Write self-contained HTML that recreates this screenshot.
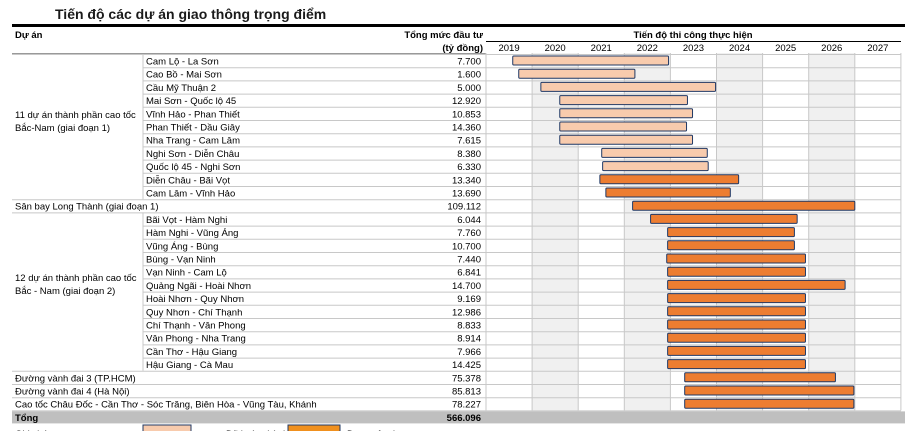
<!DOCTYPE html>
<html><head><meta charset="utf-8"><style>
html,body{margin:0;padding:0;background:#fff;width:910px;height:431px;overflow:hidden}
svg{display:block;font-family:"Liberation Sans",sans-serif}
</style></head><body>
<svg id="c" width="910" height="431"></svg>
<script>
const projectNames=["Cam Lộ - La Sơn","Cao Bồ - Mai Sơn","Cầu Mỹ Thuận 2","Mai Sơn - Quốc lộ 45","Vĩnh Hảo - Phan Thiết","Phan Thiết - Dầu Giây","Nha Trang - Cam Lâm","Nghi Sơn - Diễn Châu","Quốc lộ 45 - Nghi Sơn","Diễn Châu - Bãi Vọt","Cam Lâm - Vĩnh Hảo","Sân bay Long Thành (giai đoạn 1)","Bãi Vọt - Hàm Nghi","Hàm Nghi - Vũng Áng","Vũng Áng - Bùng","Bùng - Vạn Ninh","Vạn Ninh - Cam Lộ","Quảng Ngãi - Hoài Nhơn","Hoài Nhơn - Quy Nhơn","Quy Nhơn - Chí Thạnh","Chí Thạnh - Vân Phong","Vân Phong - Nha Trang","Cần Thơ - Hậu Giang","Hậu Giang - Cà Mau","Đường vành đai 3 (TP.HCM)","Đường vành đai 4 (Hà Nội)","Cao tốc Châu Đốc - Cần Thơ - Sóc Trăng, Biên Hòa - Vũng Tàu, Khánh"];
const investment=["7.700","1.600","5.000","12.920","10.853","14.360","7.615","8.380","6.330","13.340","13.690","109.112","6.044","7.760","10.700","7.440","6.841","14.700","9.169","12.986","8.833","8.914","7.966","14.425","75.378","85.813","78.227"];
const startYear=[2019.58,2019.71,2020.19,2020.6,2020.6,2020.6,2020.6,2021.51,2021.53,2021.47,2021.6,2022.18,2022.57,2022.94,2022.94,2022.92,2022.94,2022.94,2022.94,2022.94,2022.94,2022.94,2022.94,2022.94,2023.31,2023.31,2023.31];
const endYear=[2022.96,2022.23,2023.98,2023.37,2023.48,2023.35,2023.48,2023.8,2023.82,2024.48,2024.3,2027.0,2025.75,2025.69,2025.69,2025.93,2025.93,2026.79,2025.93,2025.93,2025.93,2025.93,2025.93,2025.93,2026.58,2026.98,2026.98];
const status=["done","done","done","done","done","done","done","done","done","ongoing","ongoing","ongoing","ongoing","ongoing","ongoing","ongoing","ongoing","ongoing","ongoing","ongoing","ongoing","ongoing","ongoing","ongoing","ongoing","ongoing","ongoing"];
const years=[2019,2020,2021,2022,2023,2024,2025,2026,2027];
const NS="http://www.w3.org/2000/svg";
const svg=document.getElementById('c');
function el(t,a,txt){const e=document.createElementNS(NS,t);for(const k in a)e.setAttribute(k,a[k]);if(txt!=null)e.textContent=txt;svg.appendChild(e);return e;}
const gx0=486,colW=46.1,rowTop=54,rowH=13.2;
const xs=y=>gx0+(y-2019)*colW;
const ry=i=>rowTop+i*rowH;
const N=projectNames.length;
// shaded columns
years.forEach((y,i)=>{if(i%2===1){const r=el('rect',{x:xs(y),y:53,width:colW,height:ry(N)-53,fill:'#f0f0f0'});

}});
// title
const t=el('text',{x:55,y:19,'font-size':14,'font-weight':'bold',fill:'#1a1a1a'},'Tiến độ các dự án giao thông trọng điểm');

el('rect',{x:12,y:24,width:893,height:3,fill:'#000'});
// headers
let h=el('text',{x:15,y:38,'font-size':9.5,'font-weight':'bold'},'Dự án');
h=el('text',{x:483,y:38,'font-size':9.5,'font-weight':'bold','text-anchor':'end'},'Tổng mức đầu tư');
el('text',{x:483,y:51,'font-size':9.5,'font-weight':'bold','text-anchor':'end'},'(tỷ đồng)');
h=el('text',{x:693,y:38,'font-size':9.5,'font-weight':'bold','text-anchor':'middle'},'Tiến độ thi công thực hiện');
el('line',{x1:486,x2:901,y1:41.5,y2:41.5,stroke:'#000','stroke-width':1});
el('line',{x1:12,x2:486,y1:53.5,y2:53.5,stroke:'#999','stroke-width':1});
years.forEach(y=>{const e=el('text',{x:xs(y)+colW/2,y:51,'font-size':9.5,'text-anchor':'middle'},String(y));
});
// grid
years.concat([2028]).forEach(y=>el('line',{x1:xs(y),x2:xs(y),y1:53,y2:ry(N),stroke:'#c8c8c8'}));
for(let i=0;i<=N;i++){
 const y=ry(i)+0.5;
 const grp=(i>=1&&i<=10)||(i>=13&&i<=23);
 el('line',{x1:grp?143:12,x2:901,y1:y,y2:y,stroke:'#c8c8c8'});
}
el('line',{x1:143,x2:143,y1:54,y2:ry(11),stroke:'#c8c8c8'});
el('line',{x1:143,x2:143,y1:ry(12),y2:ry(24),stroke:'#c8c8c8'});
// groups
let g=el('text',{x:15,y:118,'font-size':9.5},'11 dự án thành phần cao tốc');
el('text',{x:15,y:131,'font-size':9.5},'Bắc-Nam (giai đoạn 1)');
g=el('text',{x:15,y:281,'font-size':9.5},'12 dự án thành phần cao tốc');
el('text',{x:15,y:294,'font-size':9.5},'Bắc - Nam (giai đoạn 2)');
// rows
for(let i=0;i<N;i++){
 const sub=!(i===11||i>=24);
 const tx=el('text',{x:sub?146:15,y:ry(i)+10.5,'font-size':9.5},projectNames[i]);
 
 const v=el('text',{x:481,y:ry(i)+10.5,'font-size':9.5,'text-anchor':'end'},investment[i]);
 
 const b=el('rect',{x:xs(startYear[i]),y:ry(i)+2,width:xs(endYear[i])-xs(startYear[i]),height:9,rx:1,
  fill:status[i]==='done'?'#f8cbad':'#ed7d31',stroke:'#203864','stroke-width':1});
 
}
// total
const tr=el('rect',{x:12,y:ry(N)+1,width:893,height:12,fill:'#bfbfbf'});

el('text',{x:15,y:ry(N)+10.5,'font-size':9.5,'font-weight':'bold'},'Tổng');
el('text',{x:481,y:ry(N)+10.5,'font-size':9.5,'font-weight':'bold','text-anchor':'end'},'566.096');
// legend
el('text',{x:15,y:437,'font-size':9.5},'Ghi chú:');
let l=el('rect',{x:143,y:425,width:48,height:12,fill:'#f8cbad',stroke:'#203864'});
el('text',{x:226,y:437,'font-size':9.5},'Đã hoàn thành');
l=el('rect',{x:288,y:425,width:52,height:12,fill:'#f0901e',stroke:'#203864'});
el('text',{x:347,y:437,'font-size':9.5},'Đang xây dựng');
</script>
</body></html>
